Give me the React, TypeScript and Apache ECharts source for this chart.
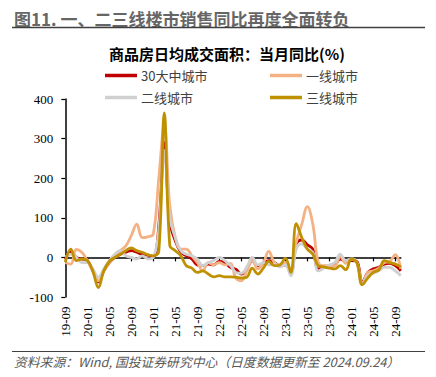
import React, { useEffect, useRef } from "react";
import * as echarts from "echarts";

const categories: string[] = [
  "19-09","19-10","19-11","19-12","20-01","20-02","20-03","20-04","20-05","20-06","20-07","20-08",
  "20-09","20-10","20-11","20-12","21-01","21-02","21-03","21-04","21-05","21-06","21-07","21-08",
  "21-09","21-10","21-11","21-12","22-01","22-02","22-03","22-04","22-05","22-06","22-07","22-08",
  "22-09","22-10","22-11","22-12","23-01","23-02","23-03","23-04","23-05","23-06","23-07","23-08",
  "23-09","23-10","23-11","23-12","24-01","24-02","24-03","24-04","24-05","24-06","24-07","24-08",
  "24-09","24-10",
];

const city30: number[] = [
  -4, 13, 0, -4, -8, -34, -62, -34, -13, 0, 8, 13,
  17, 13, 7, 6, 2, 80, 290, 90, 42, 13, 4, -4,
  -19, -21, -17, -19, -10, -13, -25, -30, -42, -29, -8, -21,
  -15, -8, -13, -21, -19, -38, 34, 44, 32, 21, -29, -25,
  -24, -19, -4, -10, -8, -10, -63, -38, -29, -25, -17, -15,
  -21, -34,
];

const tier1: number[] = [
  -13, -17, 20, 13, -8, -34, -59, -34, -13, 4, 17, 29,
  55, 84, 50, 52, 59, 200, 335, 130, 50, 21, 21, 4,
  -13, -34, -13, -19, -13, -19, -15, -52, -59, -34, -8, -29,
  -13, 15, -13, -19, -13, -34, 38, 84, 128, 84, -13, -21,
  -21, -21, 2, -15, -4, -13, -67, -38, -34, -27, -13, -10,
  7, -29,
];

const tier2: number[] = [
  0, 8, 0, -13, -13, -29, -50, -29, -8, 8, 17, 4,
  0, -4, 4, -4, 0, 70, 270, 100, 50, 17, 8, 4,
  -4, -21, -13, -8, 0, -8, -20, -38, -40, -24, 0, -19,
  -13, -19, -17, -24, -19, -46, 21, 34, 21, 13, -34, -27,
  -19, -13, 8, -8, -4, -13, -67, -46, -40, -34, -25, -25,
  -34, -46,
];

const tier3: number[] = [
  -12, 21, -8, -4, -8, -34, -76, -34, -10, 0, 8, 17,
  24, 17, 13, 7, 4, 15, 365, 30, 17, 4, -21, -27,
  -38, -34, -42, -49, -46, -49, -49, -50, -52, -50, -27, -42,
  -27, -10, -21, -19, -2, -38, 85, 50, 21, 8, -21, -24,
  -27, -29, -21, -31, -4, -13, -69, -52, -38, -32, -8, -13,
  -17, -24,
];

const seriesNames = ["30大中城市", "一线城市", "二线城市", "三线城市"];
const seriesColors = ["#C00000", "#F4B183", "#D0D0D0", "#BF9000"];
const yTicks = { min: -100, max: 400, interval: 100 };

const serif = "'Liberation Serif', 'DejaVu Serif', serif";
const cjk = "'Noto Sans CJK SC', 'Noto Sans', sans-serif";

export default function App() {
  const ref = useRef<HTMLDivElement>(null);

  useEffect(() => {
    if (!ref.current) return;
    const chart = echarts.init(ref.current, undefined, { renderer: "svg" });
    const dataSets = [city30, tier1, tier2, tier3];
    const legendPos = [
      { left: 105, top: 69 },
      { left: 270, top: 69 },
      { left: 105, top: 91 },
      { left: 270, top: 91 },
    ];
    const option: any = {
      animation: false,
      backgroundColor: "#ffffff",
      graphic: [
        {
          type: "text",
          x: 14,
          y: 18,
          style: {
            text: "图11. 一、二三线楼市销售同比再度全面转负",
            fontFamily: cjk,
            fontSize: 17,
            fontWeight: "bold",
            fill: "#666666",
            align: "left",
            verticalAlign: "middle",
          },
        },
        {
          type: "line",
          shape: { x1: 12, y1: 27.5, x2: 425, y2: 27.5 },
          style: { stroke: "#404040", lineWidth: 1.5 },
        },
        {
          type: "text",
          x: 227,
          y: 53.5,
          style: {
            text: "商品房日均成交面积：当月同比(%)",
            fontFamily: cjk,
            fontSize: 15,
            fontWeight: "bold",
            fill: "#000000",
            align: "center",
            verticalAlign: "middle",
          },
        },
        {
          type: "line",
          shape: { x1: 12, y1: 351.5, x2: 425, y2: 351.5 },
          style: { stroke: "#404040", lineWidth: 1.2 },
        },
        {
          type: "text",
          x: 14,
          y: 361,
          style: {
            text: "资料来源：Wind, 国投证券研究中心（日度数据更新至 2024.09.24）",
            fontFamily: cjk,
            fontSize: 12.8,
            fontStyle: "italic",
            fill: "#595959",
            align: "left",
            verticalAlign: "middle",
          },
        },
      ],
      legend: seriesNames.map((name, i) => ({
        data: [name],
        left: legendPos[i].left,
        top: legendPos[i].top,
        icon: "rect",
        itemWidth: 32,
        itemHeight: 3.5,
        itemGap: 0,
        padding: 0,
        textStyle: { fontFamily: cjk, fontSize: 13, color: "#404040", padding: [0, 0, 0, -1] },
      })),
      grid: { left: 65.3, right: 35.2, top: 99, bottom: 80, containLabel: false },
      xAxis: [
        {
          type: "category",
          data: categories,
          boundaryGap: false,
          axisLine: { onZero: true, lineStyle: { color: "#000000", width: 1.5 } },
          axisTick: { show: true, interval: 3, length: 4, lineStyle: { color: "#000000", width: 1.2 } },
          axisLabel: { show: false },
          splitLine: { show: false },
        },
        {
          type: "category",
          data: categories,
          position: "bottom",
          boundaryGap: false,
          axisLine: { show: false, onZero: false },
          axisTick: { show: false },
          axisLabel: {
            interval: 3,
            rotate: 90,
            margin: 9.5,
            fontFamily: serif,
            fontSize: 13,
            color: "#000000",
          },
          splitLine: { show: false },
        },
      ],
      yAxis: {
        type: "value",
        min: yTicks.min,
        max: yTicks.max,
        interval: yTicks.interval,
        axisLine: { show: true, lineStyle: { color: "#000000", width: 1.5 } },
        axisTick: { show: true, length: 4, lineStyle: { color: "#000000", width: 1.2 } },
        axisLabel: { fontFamily: serif, fontSize: 13, color: "#000000", margin: 12 },
        splitLine: { show: false },
      },
      series: seriesNames.map((name, i) => ({
        name,
        type: "line",
        xAxisIndex: 0,
        data: dataSets[i],
        smooth: 0.4,
        showSymbol: false,
        symbol: "none",
        z: 2 + i,
        color: seriesColors[i],
        lineStyle: { color: seriesColors[i], width: 2.8 },
      })),
    };
    chart.setOption(option);
    return () => chart.dispose();
  }, []);

  return (
    <div
      ref={ref}
      style={{ position: "fixed", left: 0, top: 0, width: 436, height: 377, background: "#fff" }}
    />
  );
}
